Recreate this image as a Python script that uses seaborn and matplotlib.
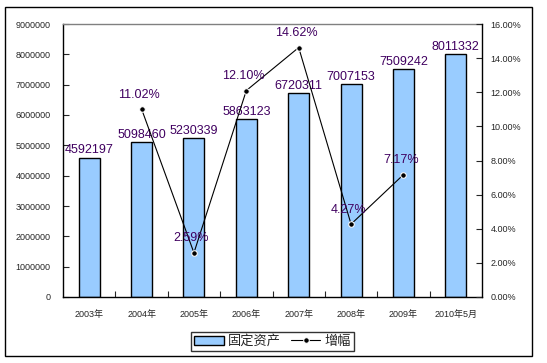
import numpy as np
import pandas as pd
import matplotlib
matplotlib.use("Agg")
import matplotlib.pyplot as plt
from matplotlib.patches import Rectangle
from matplotlib.ticker import FixedLocator, PercentFormatter
import seaborn as sns

years = ["2003年", "2004年", "2005年", "2006年", "2007年", "2008年", "2009年", "2010年5月"]
assets = [4592197, 5098460, 5230339, 5863123, 6720311, 7007153, 7509242, 8011332]
growth = [np.nan, 11.02, 2.59, 12.10, 14.62, 4.27, 7.17, np.nan]

sns.set_style("white")
plt.rcParams['font.family'] = ['Liberation Sans', 'Noto Sans CJK SC']

df = pd.DataFrame({"year": years, "assets": assets, "growth": growth})
df["pos"] = np.arange(len(df))

fig = plt.figure(figsize=(5.47, 3.63), dpi=100)
fig.subplots_adjust(left=63/547, right=482/547, top=1-24/363, bottom=1-297/363)
ax = fig.add_subplot(111)

sns.barplot(data=df, x="year", y="assets", color="#99CCFF", width=0.4,
            edgecolor="black", linewidth=1, saturation=1, ax=ax, label="固定资产")
ax.bar_label(ax.containers[0], labels=[str(v) for v in assets], padding=1,
             fontsize=9, color="#400060")
ax.set_ylim(0, 9000000)
ax.set_xlim(-0.5, len(years) - 0.5)
ax.set_yticks(np.arange(0, 9000001, 1000000))
ax.set_yticklabels([str(v) for v in range(0, 9000001, 1000000)])
ax.set_xlabel("")
ax.set_ylabel("")
ax.tick_params(axis="x", which="major", length=0, pad=9, labelsize=6.5)
ax.tick_params(axis="y", direction="in", length=4, width=0.8, pad=9, labelsize=6.5, left=True)
ax.xaxis.set_minor_locator(FixedLocator(np.arange(0.5, len(years) - 1, 1)))
ax.tick_params(axis="x", which="minor", direction="in", length=4, width=0.8, bottom=True)
for s in ["left", "bottom"]:
    ax.spines[s].set_color("black")
    ax.spines[s].set_linewidth(1)
ax.spines["top"].set_color("gray")
ax.spines["top"].set_linewidth(1)
ax.spines["right"].set_visible(False)

ax2 = ax.twinx()
pts = df.dropna(subset=["growth"])
sns.lineplot(data=pts, x="pos", y="growth", color="black", linewidth=0.8,
             marker="o", markersize=4, ax=ax2, label="增幅")
for _, r in pts.iterrows():
    ax2.annotate(f"{r['growth']:.2f}%", (r["pos"], r["growth"]), xytext=(-2, 6),
                 textcoords="offset points", ha="center", va="bottom",
                 fontsize=9, color="#400060")
ax2.set_ylim(0, 16)
ax2.set_yticks(np.arange(0, 16.1, 2))
ax2.yaxis.set_major_formatter(PercentFormatter(decimals=2))
ax2.set_ylabel("")
ax2.set_xlabel("")
ax2.tick_params(axis="y", direction="in", length=4, width=0.8, pad=6, labelsize=6.5, right=True)
ax2.spines["right"].set_color("black")
ax2.spines["right"].set_linewidth(1)
for s in ["top", "left", "bottom"]:
    ax2.spines[s].set_visible(False)
ax2.get_legend().remove()

h1, l1 = ax.get_legend_handles_labels()
h2, l2 = ax2.get_legend_handles_labels()
leg = fig.legend(h1 + h2, l1 + l2, loc="center", ncol=2,
                 bbox_to_anchor=(272.5/547, 1-341.5/363), fontsize=9.5,
                 frameon=True, fancybox=False, edgecolor="black",
                 handlelength=2.2, handletextpad=0.3, columnspacing=0.8,
                 borderpad=0.25, borderaxespad=0)
leg.get_frame().set_linewidth(1)
if ax.get_legend() is not None:
    ax.get_legend().remove()

fig.patches.append(Rectangle((5/547, 7/363), 527/547, 349/363, transform=fig.transFigure,
                             fill=False, edgecolor="black", linewidth=1))

fig.savefig("out.png", dpi=100)
